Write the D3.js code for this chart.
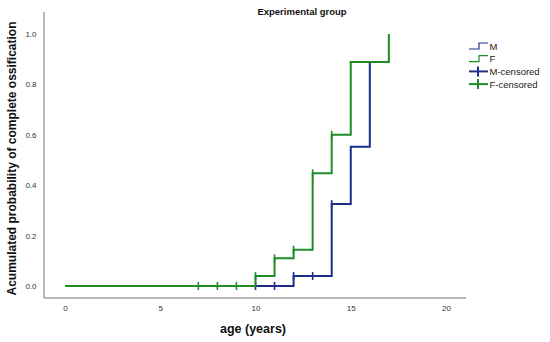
<!DOCTYPE html>
<html><head><meta charset="utf-8">
<script src="https://cdn.jsdelivr.net/npm/d3@7"></script>
<style>body{margin:0;background:#fff}svg{display:block;font-family:Arial,"Liberation Sans",sans-serif}</style>
</head><body><svg id="c" width="550" height="342"></svg>
<script>
const title = "Experimental group";
const xTicks = [0, 5, 10, 15, 20];
const yTicks = [0, 0.2, 0.4, 0.6, 0.8, 1.0];
const mAges = [0, 12, 14, 15, 16, 17];
const mProb = [0, 0.04, 0.325, 0.553, 0.889, 0.889];
const fAges = [0, 10, 11, 12, 13, 14, 15, 17];
const fProb = [0, 0.04, 0.11, 0.144, 0.447, 0.6, 0.889, 1.0];
const mCensored = [10, 11, 12, 13, 14];
const fCensored = [7, 8, 9, 10, 11, 12, 13, 14];
const legendLabels = ["M", "F", "M-censored", "F-censored"];

const blue = "#1b2f8a", green = "#1f8c26";
const svg = d3.select("#c");
const x = d3.scaleLinear().domain([0, 20]).range([65, 446]);
const y = d3.scaleLinear().domain([0, 1]).range([286, 34]);

// axes lines
svg.append("line").attr("x1", 44).attr("x2", 44).attr("y1", 12).attr("y2", 298).attr("stroke", "#a0a0a0").attr("stroke-width", 1.5);
svg.append("line").attr("x1", 44).attr("x2", 466).attr("y1", 298).attr("y2", 298).attr("stroke", "#a0a0a0").attr("stroke-width", 1.5);

const xAxis = svg.append("g").attr("transform", "translate(0,298)")
  .call(d3.axisBottom(x).tickValues(xTicks).tickSize(0).tickPadding(7).tickFormat(d3.format("d")));
xAxis.select(".domain").remove();
xAxis.selectAll("text").attr("font-size", 8).attr("fill", "#333").attr("font-family", "Arial, 'Liberation Sans', sans-serif");

const yAxis = svg.append("g").attr("transform", "translate(44,0)")
  .call(d3.axisLeft(y).tickValues(yTicks).tickSize(0).tickPadding(7.5).tickFormat(d3.format(".1f")));
yAxis.select(".domain").remove();
yAxis.selectAll("text").attr("font-size", 8).attr("fill", "#333").attr("font-family", "Arial, 'Liberation Sans', sans-serif");

const line = d3.line().x(d => x(d[0])).y(d => y(d[1])).curve(d3.curveStepAfter);
function stepVal(ages, probs, t) {
  let v = probs[0];
  for (let i = 0; i < ages.length; i++) if (ages[i] <= t) v = probs[i];
  return v;
}
function drawSeries(ages, probs, cens, col) {
  svg.append("path").datum(ages.map((a, i) => [a, probs[i]]))
    .attr("d", line).attr("fill", "none").attr("stroke", col).attr("stroke-width", 2);
  svg.append("g").selectAll("line").data(cens).join("line")
    .attr("x1", d => x(d)).attr("x2", d => x(d))
    .attr("y1", d => y(stepVal(ages, probs, d)) - 4)
    .attr("y2", d => y(stepVal(ages, probs, d)) + 4)
    .attr("stroke", col).attr("stroke-width", 1.6);
}
drawSeries(mAges, mProb, mCensored, blue);
drawSeries(fAges, fProb, fCensored, green);

// titles
svg.append("text").attr("x", 302).attr("y", 14.5).attr("text-anchor", "middle")
  .attr("font-size", 9.5).attr("font-weight", "bold").attr("fill", "#111").text(title);
svg.append("text").attr("x", 253).attr("y", 333).attr("text-anchor", "middle")
  .attr("font-size", 12.5).attr("font-weight", "bold").attr("fill", "#111").text("age (years)");
svg.append("text").attr("transform", "translate(16,158.5) rotate(-90)").attr("text-anchor", "middle")
  .attr("font-size", 12).attr("font-weight", "bold").attr("fill", "#111").text("Acumulated probability of complete ossification");

// legend
const lg = svg.append("g");
const legendCols = [blue, green, blue, green];
legendLabels.forEach((lab, i) => {
  const ly = 46 + i * 12.7;
  const c = legendCols[i];
  if (i < 2) {
    lg.append("path").attr("d", `M469,${ly + 3}H479V${ly - 3}H488`).attr("fill", "none").attr("stroke", c).attr("stroke-width", 1.2);
  } else {
    lg.append("line").attr("x1", 469).attr("x2", 488).attr("y1", ly).attr("y2", ly).attr("stroke", c).attr("stroke-width", 2);
    lg.append("line").attr("x1", 478).attr("x2", 478).attr("y1", ly - 5).attr("y2", ly + 5).attr("stroke", c).attr("stroke-width", 2);
  }
  lg.append("text").attr("x", 489.5).attr("y", ly + 3.5).attr("font-size", 9.5).attr("fill", "#222").text(lab);
});
</script></body></html>
